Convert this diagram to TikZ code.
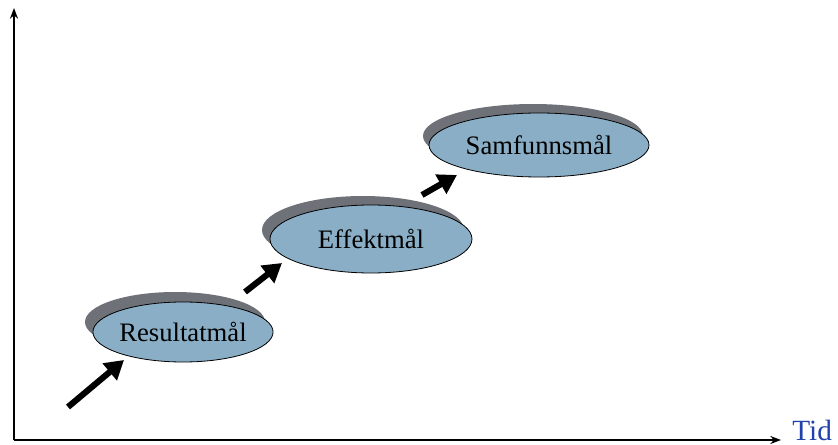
\documentclass[tikz,border=0pt]{standalone}
\usepackage{fontspec}
\setmainfont{Liberation Serif}
\usetikzlibrary{arrows.meta,shapes.geometric}
\definecolor{goalfill}{RGB}{138,174,198}
\definecolor{goalshade}{RGB}{110,114,120}
\definecolor{timeblue}{RGB}{35,65,170}
\tikzset{
  goal/.style={ellipse, draw=black, line width=0.6pt, fill=goalfill, inner sep=0pt,
               font=\fontsize{20}{22}\selectfont},
  goalshadow/.style={ellipse, fill=goalshade, inner sep=0pt},
  steparrow/.style={line width=4.6pt, -{Triangle[length=14pt,width=16pt]}},
  axis/.style={line width=1.4pt, -{Stealth[length=8pt,width=6pt]}}
}
\begin{document}
\begin{tikzpicture}[x=0.75pt,y=-0.75pt]
\useasboundingbox (0,0) rectangle (838,445);
% axes
\coordinate (origin) at (14,440);
\coordinate (ytip) at (14,8);
\coordinate (xtip) at (781,440);
\draw[axis] (origin) -- (ytip);
\draw[axis] (origin) -- (xtip);
\node[font=\fontsize{22}{24}\selectfont, text=timeblue, anchor=base west, inner sep=0pt] (tid) at (792,440) {Tid};
% goal ellipses with offset shadows
\node[goalshadow, minimum width=135pt, minimum height=45pt] (s1) at (175,322) {};
\node[goal, minimum width=135pt, minimum height=45pt] (res) at (183,332) {Resultatmål};
\node[goalshadow, minimum width=151.5pt, minimum height=51pt] (s2) at (363,230) {};
\node[goal, minimum width=151.5pt, minimum height=51pt] (eff) at (371,239) {Effektmål};
\node[goalshadow, minimum width=165pt, minimum height=48pt] (s3) at (533,136) {};
\node[goal, minimum width=165pt, minimum height=48pt] (sam) at (539,145) {Samfunnsmål};
% progression arrows
\coordinate (a1s) at (68,407);
\coordinate (a1e) at (124,360);
\coordinate (a2s) at (245,292);
\coordinate (a2e) at (282,263);
\coordinate (a3s) at (422,195);
\coordinate (a3e) at (457,175);
\draw[steparrow] (a1s) -- (a1e);
\draw[steparrow] (a2s) -- (a2e);
\draw[steparrow] (a3s) -- (a3e);
\end{tikzpicture}
\end{document}
